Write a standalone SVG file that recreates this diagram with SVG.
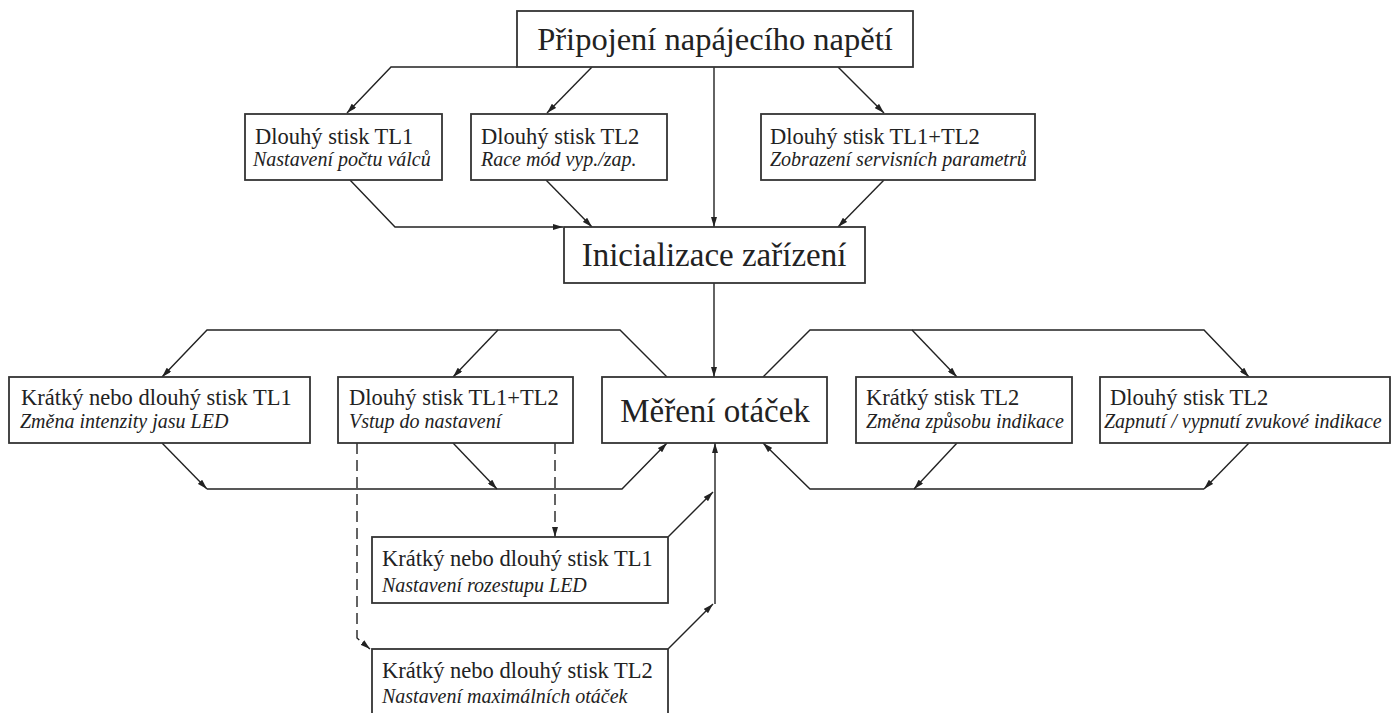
<svg xmlns="http://www.w3.org/2000/svg" width="1392" height="713" viewBox="0 0 1392 713">
<defs>
<marker id="arr" viewBox="0 0 10 6" refX="10" refY="3" markerWidth="10" markerHeight="6" markerUnits="userSpaceOnUse" orient="auto">
<path d="M0,0 L10,3 L0,6 Z" fill="#222"/>
</marker>
<style>
.box{fill:#fff;stroke:#333;stroke-width:1.8}
.t{font-family:"Liberation Serif","Times New Roman",serif;font-size:22.5px;fill:#222}
.i{font-family:"Liberation Serif","Times New Roman",serif;font-size:20px;font-style:italic;fill:#222}
.big{font-family:"Liberation Serif","Times New Roman",serif;font-size:33px;fill:#222;text-anchor:middle}
.c{fill:none;stroke:#222;stroke-width:1.4}
.a{marker-end:url(#arr)}
.d{stroke-dasharray:11 6}
</style>
</defs>
<rect width="1392" height="713" fill="#fff"/>
<g id="connectors">
<path class="c a" d="M517,67 H391 L347,113"/>
<path class="c a" d="M592,67 L547,113"/>
<path class="c a" d="M714,67 V227"/>
<path class="c a" d="M838,67 L884,113"/>
<path class="c a" d="M350,180 L395,227 H563"/>
<path class="c a" d="M546,180 L592,227"/>
<path class="c a" d="M884,180 L838,227"/>
<path class="c a" d="M714,283 V377"/>
<path class="c a" d="M667,377 L620,330 H207 L162,377"/>
<path class="c a" d="M498,330 L453,377"/>
<path class="c a" d="M162,443 L207,489"/>
<path class="c a" d="M453,443 L497,489"/>
<path class="c a" d="M207,489 H622 L667,443"/>
<path class="c a" d="M763,377 L810,330 H1204 L1249,377"/>
<path class="c a" d="M912,330 L957,377"/>
<path class="c a" d="M1249,443 L1204,489"/>
<path class="c a" d="M957,443 L914,489"/>
<path class="c a" d="M1204,489 H810 L763,443"/>
<path class="c a" d="M715,604 V443"/>
<path class="c a" d="M668,537 L713,492"/>
<path class="c a" d="M668,649 L713,604"/>
<path class="c a d" d="M555,443 V537"/>
<path class="c a d" d="M357,443 V638 L370,649"/>
</g>
<g id="power">
<rect class="box" x="517" y="11" width="396" height="56"/>
<text class="big" x="715" y="50" style="font-size:32.5px">Připojení napájecího napětí</text>
</g>
<g id="long-tl1">
<rect class="box" x="245" y="114" width="197" height="66"/>
<text class="t" x="255" y="144">Dlouhý stisk TL1</text>
<text class="i" x="253" y="166">Nastavení počtu válců</text>
</g>
<g id="long-tl2">
<rect class="box" x="471" y="114" width="196" height="66"/>
<text class="t" x="481" y="144">Dlouhý stisk TL2</text>
<text class="i" x="481" y="166">Race mód vyp./zap.</text>
</g>
<g id="long-tl1tl2-service">
<rect class="box" x="761" y="114" width="274" height="66"/>
<text class="t" x="770" y="144">Dlouhý stisk TL1+TL2</text>
<text class="i" x="770" y="166">Zobrazení servisních parametrů</text>
</g>
<g id="init">
<rect class="box" x="564" y="227" width="301" height="56"/>
<text class="big" x="714" y="266">Inicializace zařízení</text>
</g>
<g id="measure">
<rect class="box" x="602" y="377" width="225" height="66"/>
<text class="big" x="715" y="422">Měření otáček</text>
</g>
<g id="short-long-tl1-brightness">
<rect class="box" x="9" y="377" width="301" height="66"/>
<text class="t" x="21" y="405">Krátký nebo dlouhý stisk TL1</text>
<text class="i" x="20" y="428">Změna intenzity jasu LED</text>
</g>
<g id="long-tl1tl2-settings">
<rect class="box" x="338" y="377" width="235" height="66"/>
<text class="t" x="349" y="405">Dlouhý stisk TL1+TL2</text>
<text class="i" x="349" y="428">Vstup do nastavení</text>
</g>
<g id="short-tl2">
<rect class="box" x="856" y="377" width="216" height="66"/>
<text class="t" x="866" y="405">Krátký stisk TL2</text>
<text class="i" x="866" y="428">Změna způsobu indikace</text>
</g>
<g id="long-tl2-sound">
<rect class="box" x="1100" y="377" width="290" height="66"/>
<text class="t" x="1110" y="405">Dlouhý stisk TL2</text>
<text class="i" x="1104" y="428">Zapnutí / vypnutí zvukové indikace</text>
</g>
<g id="set-spacing">
<rect class="box" x="372" y="537" width="296" height="66"/>
<text class="t" x="382" y="566">Krátký nebo dlouhý stisk TL1</text>
<text class="i" x="382" y="592">Nastavení rozestupu LED</text>
</g>
<g id="set-max-rpm">
<rect class="box" x="372" y="649" width="296" height="72"/>
<text class="t" x="382" y="678">Krátký nebo dlouhý stisk TL2</text>
<text class="i" x="382" y="703">Nastavení maximálních otáček</text>
</g>
</svg>
